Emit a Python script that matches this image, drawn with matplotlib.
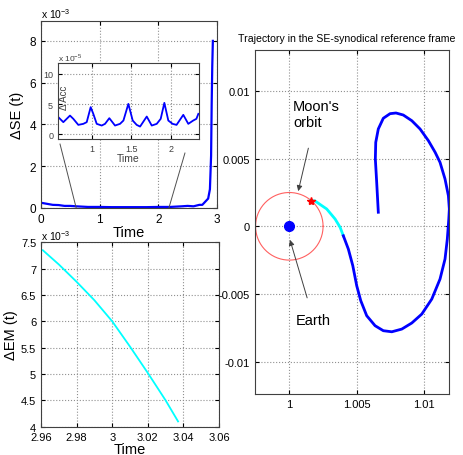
import numpy as np
import matplotlib
matplotlib.use('Agg')
import matplotlib.pyplot as plt

plt.rcParams['font.family'] = ['Liberation Sans', 'DejaVu Sans']
plt.rcParams['mathtext.fontset'] = 'custom'
plt.rcParams['mathtext.rm'] = 'Liberation Sans'

# Delta SE over time (x 1e-3)
se_t = [0, 0.1, 0.2, 0.3, 0.4, 0.5, 0.6, 0.8, 1.0, 1.2, 1.5, 1.8, 2.0, 2.2, 2.4,
        2.5, 2.6, 2.7, 2.75, 2.8, 2.85, 2.88, 2.9, 2.91, 2.92, 2.93]
se_v = [0.25, 0.2, 0.15, 0.14, 0.1, 0.1, 0.08, 0.05, 0.05, 0.04, 0.04, 0.04, 0.05, 0.05, 0.08,
        0.1, 0.08, 0.15, 0.15, 0.3, 0.45, 0.9, 2.5, 5.0, 6.8, 8.0]

# inset: Delta Acc (x 1e-5)
acc_t = [0.579, 0.642, 0.726, 0.768, 0.831, 0.894, 0.937, 0.987, 1.02, 1.063, 1.126, 1.168,
         1.222, 1.294, 1.357, 1.40, 1.462, 1.517, 1.567, 1.61, 1.694, 1.757, 1.82, 1.87,
         1.916, 1.966, 2.02, 2.07, 2.155, 2.218, 2.28, 2.32, 2.345]
acc_v = [2.82, 1.99, 3.08, 2.54, 1.54, 1.71, 1.99, 4.48, 3.37, 1.71, 1.43, 1.71,
         2.65, 1.43, 1.71, 2.26, 5.02, 2.26, 1.54, 1.26, 2.92, 1.43, 1.71, 2.54,
         5.19, 2.26, 1.71, 1.54, 3.2, 1.71, 2.26, 2.54, 3.37]

# Delta EM (x 1e-3)
em_t = [2.961, 2.97, 2.98, 2.99, 3.0, 3.01, 3.02, 3.03, 3.037]
em_v = [7.35, 7.08, 6.75, 6.4, 6.0, 5.52, 5.02, 4.5, 4.1]

# trajectory, synodical frame
cyan_x = [1.00158, 1.0019, 1.0023, 1.00277, 1.00339, 1.00376, 1.0040]
cyan_y = [0.0019, 0.00188, 0.0016, 0.00128, 0.00054, -0.00007, -0.0007]
traj_x = [1.0040, 1.00437, 1.0047, 1.00499, 1.00529, 1.00573, 1.00635, 1.00696, 1.00759,
          1.00833, 1.00907, 1.00981, 1.01055, 1.01116, 1.01153, 1.0117, 1.01181, 1.01185,
          1.01178, 1.01153, 1.01116, 1.0108, 1.0103, 1.00968, 1.00907, 1.00844, 1.0079,
          1.00746, 1.00696, 1.00659, 1.0064, 1.00637, 1.00647, 1.00659]
traj_y = [-0.0007, -0.00168, -0.00291, -0.00439, -0.0055, -0.00661, -0.00735, -0.00772, -0.0078,
          -0.0076, -0.00715, -0.00649, -0.00538, -0.0039, -0.00242, -0.00094, 0.00054, 0.00128,
          0.00226, 0.0035, 0.00473, 0.00547, 0.00633, 0.0072, 0.00781, 0.00823, 0.00838,
          0.00833, 0.00799, 0.0072, 0.00621, 0.00498, 0.00325, 0.00104]
moon_r = 0.0025
star_x, star_y = 1.00158, 0.0019


def matlab_style(ax, size=8):
    ax.grid(True, linestyle=':', color='#909090', linewidth=0.8)
    ax.tick_params(direction='in', top=True, right=True, labelsize=size, length=3)
    for s in ax.spines.values():
        s.set_color('#404040')


fig = plt.figure(figsize=(4.63, 4.56), dpi=100)

ax1 = fig.add_axes([0.0886, 0.5417, 0.380, 0.410])
ax1.plot(se_t, se_v, color='blue', lw=1.6)
ax1.set_xlim(0, 3)
ax1.set_ylim(0, 8.95)
ax1.set_xticks([0, 1, 2, 3])
ax1.set_yticks([0, 2, 4, 6, 8])
matlab_style(ax1, 8.5)
ax1.set_xlabel('Time', fontsize=10.5, labelpad=0)
ax1.set_ylabel('ΔSE (t)', fontsize=10.5, labelpad=4)
ax1.text(0, 1.015, 'x 10$^{-3}$', transform=ax1.transAxes, fontsize=7.5)
# lines from inset to the zoomed region
ax1.plot([0.324, 0.6], [3.06, 0], color='#505050', lw=0.7)
ax1.plot([2.454, 2.18], [2.63, 0], color='#505050', lw=0.7)

ins = fig.add_axes([0.1253, 0.693, 0.3045, 0.1667])
ins.plot(acc_t, acc_v, color='blue', lw=1.3)
ins.set_xlim(0.575, 2.353)
ins.set_ylim(-0.8, 11.8)
ins.set_xticks([1, 1.5, 2])
ins.set_xticklabels(['1', '1.5', '2'])
ins.set_yticks([0, 5, 10])
matlab_style(ins, 6.5)
ins.tick_params(labelcolor='#404040')
ins.set_xlabel('Time', fontsize=7.5, labelpad=0, color='#404040')
ins.text(0.045, 0.55, 'Δ Acc', transform=ins.transAxes, rotation=90, fontsize=7,
         color='#404040', ha='center', va='center')
ins.text(0, 1.03, 'x 10$^{-5}$', transform=ins.transAxes, fontsize=6, color='#404040')

ax2 = fig.add_axes([0.0886, 0.0621, 0.3844, 0.4043])
ax2.plot(em_t, em_v, color='cyan', lw=1.3)
ax2.set_xlim(2.96, 3.06)
ax2.set_ylim(4, 7.5)
ax2.set_xticks([2.96, 2.98, 3.0, 3.02, 3.04, 3.06])
ax2.set_xticklabels(['2.96', '2.98', '3', '3.02', '3.04', '3.06'])
ax2.set_yticks([4, 4.5, 5, 5.5, 6, 6.5, 7, 7.5])
ax2.set_yticklabels(['4', '4.5', '5', '5.5', '6', '6.5', '7', '7.5'])
matlab_style(ax2, 8)
ax2.set_xlabel('Time', fontsize=10.5, labelpad=0)
ax2.set_ylabel('ΔEM (t)', fontsize=10.5, labelpad=2)
ax2.text(0, 1.01, 'x 10$^{-3}$', transform=ax2.transAxes, fontsize=7.5)

ax3 = fig.add_axes([0.5508, 0.1338, 0.4197, 0.7544])
th = np.linspace(0, 2 * np.pi, 200)
ax3.plot(1 + moon_r * np.cos(th), moon_r * np.sin(th), color='#ff6060', lw=0.8)
ax3.plot(cyan_x, cyan_y, color='cyan', lw=2)
ax3.plot(traj_x, traj_y, color='blue', lw=2)
ax3.plot([star_x], [star_y], marker='*', color='red', markersize=6, mew=1)
ax3.plot([1], [0], 'o', color='blue', markersize=7)
ax3.set_xlim(0.99746, 1.01185)
ax3.set_ylim(-0.0124, 0.01304)
ax3.set_xticks([1, 1.005, 1.01])
ax3.set_xticklabels(['1', '1.005', '1.01'])
ax3.set_yticks([-0.01, -0.005, 0, 0.005, 0.01])
ax3.set_yticklabels(['-0.01', '-0.005', '0', '0.005', '0.01'])
matlab_style(ax3, 8)
fig.text(238 / 463, 1 - 39 / 456, 'Trajectory in the SE-synodical reference frame',
         fontsize=7.6, ha='left', va='center')
ax3.annotate("Moon's\norbit", xy=(1.00066, 0.0026), xytext=(1.00027, 0.0083),
             fontsize=10.5, va='center', ha='left',
             arrowprops=dict(arrowstyle='-|>', color='#404040', lw=0.7,
                             mutation_scale=8, shrinkA=12, shrinkB=0))
ax3.annotate('Earth', xy=(1.00005, -0.001), xytext=(1.0005, -0.0069),
             fontsize=10.5, va='center', ha='left',
             arrowprops=dict(arrowstyle='-|>', color='#404040', lw=0.7,
                             mutation_scale=8, shrinkA=9, shrinkB=0))

fig.savefig('out.png', dpi=100)
